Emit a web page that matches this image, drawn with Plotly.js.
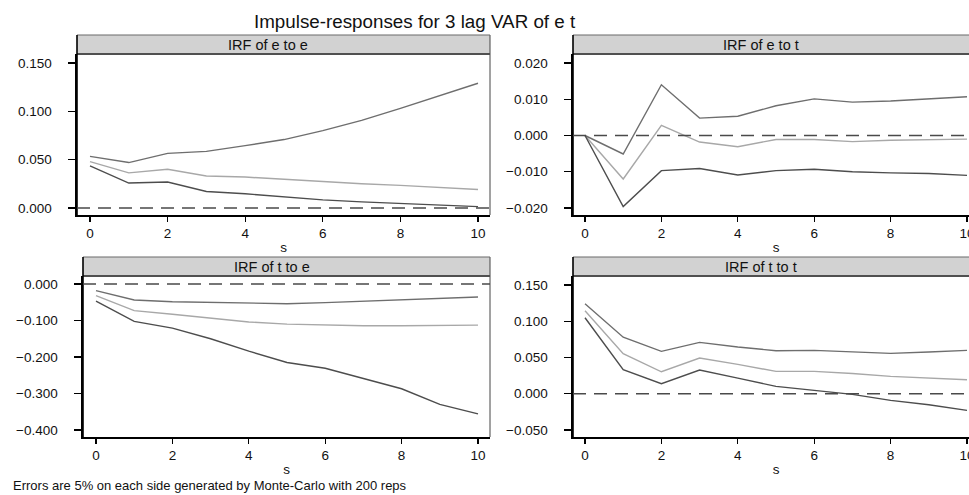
<!DOCTYPE html>
<html>
<head>
<meta charset="utf-8">
<script src="https://cdn.plot.ly/plotly-3.0.1.min.js"></script>
<style>
html, body { margin: 0; padding: 0; overflow: hidden; background: #fff; width: 969px; height: 495px; }
#chart { width: 990px; height: 495px; }
</style>
</head>
<body>
<div id="chart"></div>
<script>
// ---- data ----
const steps = [0, 1, 2, 3, 4, 5, 6, 7, 8, 9, 10];
const xTicks = [0, 2, 4, 6, 8, 10];

// IRF of e to e
const eeUpper = [0.0534, 0.0470, 0.0565, 0.0586, 0.0645, 0.0708, 0.0800, 0.0907, 0.1030, 0.1160, 0.1290];
const eeIrf   = [0.0480, 0.0363, 0.0400, 0.0331, 0.0320, 0.0297, 0.0272, 0.0251, 0.0234, 0.0216, 0.0192];
const eeLower = [0.0436, 0.0258, 0.0269, 0.0171, 0.0147, 0.0115, 0.0084, 0.0063, 0.0045, 0.0028, 0.0014];

// IRF of e to t
const etUpper = [0.0000, -0.0051, 0.0140, 0.0048, 0.0053, 0.0082, 0.0101, 0.0092, 0.0095, 0.0100, 0.0107];
const etIrf   = [0.0000, -0.0120, 0.0028, -0.0018, -0.0031, -0.0011, -0.0011, -0.0017, -0.0013, -0.0011, -0.0010];
const etLower = [0.0000, -0.0196, -0.0097, -0.0091, -0.0109, -0.0097, -0.0093, -0.0100, -0.0103, -0.0105, -0.0110];

// IRF of t to e
const teUpper = [-0.018, -0.044, -0.0485, -0.050, -0.053, -0.054, -0.051, -0.0476, -0.043, -0.039, -0.0357];
const teIrf   = [-0.032, -0.073, -0.083, -0.093, -0.104, -0.110, -0.1126, -0.1144, -0.1144, -0.1135, -0.1126];
const teLower = [-0.0467, -0.1025, -0.121, -0.150, -0.184, -0.215, -0.231, -0.258, -0.287, -0.330, -0.356];

// IRF of t to t
const ttUpper = [0.124, 0.078, 0.0584, 0.0708, 0.0644, 0.0593, 0.0598, 0.0575, 0.0556, 0.0575, 0.0598];
const ttIrf   = [0.1145, 0.0552, 0.0303, 0.0492, 0.0405, 0.0308, 0.0308, 0.0280, 0.0239, 0.0216, 0.0193];
const ttLower = [0.1048, 0.0331, 0.0138, 0.0326, 0.0216, 0.0101, 0.0046, -0.0009, -0.0092, -0.0152, -0.0230];

const yTicksEE = [0, 0.05, 0.10, 0.15];
const yTicksET = [-0.02, -0.01, 0, 0.01, 0.02];
const yTicksTE = [-0.4, -0.3, -0.2, -0.1, 0];
const yTicksTT = [-0.05, 0, 0.05, 0.10, 0.15];

const panelTitles = ["IRF of e to e", "IRF of e to t", "IRF of t to e", "IRF of t to t"];
const chartTitle = "Impulse-responses for 3 lag VAR of e t";
const footnote = "Errors are 5% on each side generated by Monte-Carlo with 200 reps";
const xLabel = "s";

// ---- layout geometry (pixels) ----
const W = 990, H = 495;
const FONT = "Liberation Sans, Arial, Helvetica, sans-serif";
const panels = [
  {up: eeUpper, irf: eeIrf, lo: eeLower, yt: yTicksEE, box: [77, 490, 54, 215], xr: [-0.335, 10.309], yr: [-0.00724, 0.1593]},
  {up: etUpper, irf: etIrf, lo: etLower, yt: yTicksET, box: [573, 979, 54, 215], xr: [-0.314, 10.314], yr: [-0.02193, 0.02248]},
  {up: teUpper, irf: teIrf, lo: teLower, yt: yTicksTE, box: [83, 490, 276, 437], xr: [-0.340, 10.314], yr: [-0.4192, 0.0219]},
  {up: ttUpper, irf: ttIrf, lo: ttLower, yt: yTicksTT, box: [573, 979, 276, 437], xr: [-0.314, 10.314], yr: [-0.0597, 0.1624]}
];

const colUp = "#6e6e6e", colIrf = "#a8a8a8", colLo = "#4d4d4d";
const traces = [];
const layout = {
  width: W, height: H, autosize: false,
  margin: {l: 0, r: 0, t: 0, b: 0},
  paper_bgcolor: "#fff", plot_bgcolor: "#fff",
  showlegend: false,
  font: {family: FONT, color: "#111", size: 13},
  shapes: [], annotations: []
};

panels.forEach((p, i) => {
  const n = i === 0 ? "" : String(i + 1);
  const xa = "x" + n, ya = "y" + n;
  const [l, r, t, b] = p.box;
  [[p.irf, colIrf], [p.up, colUp], [p.lo, colLo]].forEach(([vals, c]) => {
    traces.push({x: steps, y: vals, type: "scatter", mode: "lines", xaxis: xa, yaxis: ya,
      line: {color: c, width: 1.4}, hoverinfo: "x+y"});
  });
  layout["xaxis" + n] = {
    domain: [l / W, r / W], range: p.xr, anchor: ya,
    tickvals: xTicks, ticks: "outside", ticklen: 5, tickwidth: 1.2, tickcolor: "#000",
    showline: true, linecolor: "#000", linewidth: 1.6, showgrid: false, zeroline: false,
    tickfont: {size: 13.5, family: FONT, color: "#111"},
    title: {text: xLabel, font: {size: 13.5, family: FONT, color: "#111"}, standoff: 3}
  };
  layout["yaxis" + n] = {
    domain: [1 - b / H, 1 - t / H], range: p.yr, anchor: xa,
    tickvals: p.yt, tickformat: ".3f", ticks: "outside", ticklen: 7, tickwidth: 1.2, tickcolor: "#000",
    ticklabelstandoff: 14,
    showline: true, linecolor: "#000", linewidth: 1.6, showgrid: false, zeroline: false,
    tickfont: {size: 13.5, family: FONT, color: "#111"}
  };
  const xd = xa + " domain", yd = ya + " domain";
  const ph = b - t;
  const stripTop = 1 + 19 / ph;
  // plot frame (right side)
  layout.shapes.push({type: "line", xref: xd, yref: yd, x0: 1, x1: 1, y0: 0, y1: stripTop, line: {color: "#444", width: 1}});
  // strip
  layout.shapes.push({type: "rect", xref: xd, yref: yd, x0: 0, x1: 1, y0: 1, y1: stripTop, fillcolor: "#d2d2d2", line: {width: 0}, layer: "below"});
  layout.shapes.push({type: "line", xref: xd, yref: yd, x0: 0, x1: 1, y0: stripTop, y1: stripTop, line: {color: "#6a6a6a", width: 1.2}});
  layout.shapes.push({type: "line", xref: xd, yref: yd, x0: 0, x1: 1, y0: 1, y1: 1, line: {color: "#505050", width: 2}});
  layout.shapes.push({type: "line", xref: xd, yref: yd, x0: 0, x1: 0, y0: 0, y1: stripTop, line: {color: "#000", width: 1.6}});
  // zero reference line
  layout.shapes.push({type: "line", xref: xd, yref: ya, x0: 0, x1: 1, y0: 0, y1: 0, line: {color: "#4a4a4a", width: 1.4, dash: "13px,8px"}});
  // strip title
  layout.annotations.push({text: panelTitles[i], xref: xa, yref: yd, x: 4.6, y: 1 + 9.5 / ph,
    xanchor: "center", yanchor: "middle", showarrow: false, font: {size: 14.5, family: FONT, color: "#111"}});
});

layout.annotations.push({text: chartTitle, xref: "paper", yref: "paper", x: 415 / W, y: 1 - 21 / H,
  xanchor: "center", yanchor: "middle", showarrow: false, font: {size: 18.8, family: FONT, color: "#111"}});
layout.annotations.push({text: footnote, xref: "paper", yref: "paper", x: 11 / W, y: 1 - 485 / H,
  xanchor: "left", yanchor: "middle", showarrow: false, font: {size: 13, family: FONT, color: "#111"}});

Plotly.newPlot("chart", traces, layout, {displayModeBar: false, staticPlot: true});
</script>
</body>
</html>
